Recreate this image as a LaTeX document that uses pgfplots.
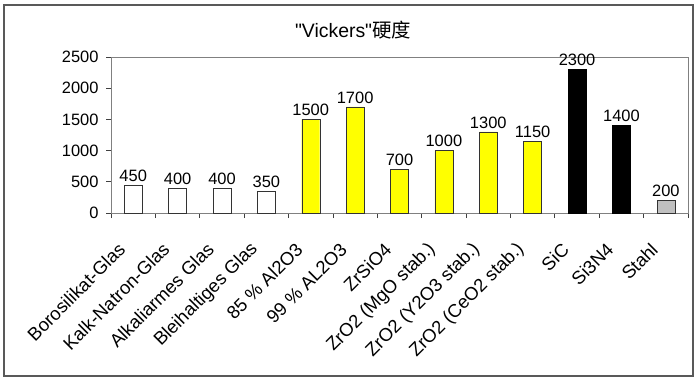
\documentclass[border=0pt]{standalone}
\usepackage{pgfplots}
\pgfplotsset{compat=1.18}
\usepackage{fontspec}
\setmainfont{Liberation Sans}
\newfontfamily\plainfont{Liberation Sans}
\newfontfamily\cjk{Noto Sans CJK SC}
\definecolor{xlyellow}{RGB}{255,255,0}
\definecolor{xlgray}{RGB}{192,192,192}
\begin{document}
\begin{tikzpicture}[x=1bp,y=1bp]
\useasboundingbox (0,0) rectangle (700,380);
\fill[white] (0,0) rectangle (700,380);
\draw[line width=1.5bp, black!65] (4,4) rectangle (693,375);
\node[font=\fontsize{19.5}{23}\selectfont] at (353,350) {\plainfont "Vickers"{\cjk 硬度}};
\begin{axis}[
  at={(111bp,167bp)}, anchor=south west,
  scale only axis, width=577bp, height=156bp,
  xmin=-0.5, xmax=12.5, ymin=0, ymax=2500,
  ytick={0,500,1000,1500,2000,2500},
  xtick={0,...,12},
  xticklabels={Borosilikat-Glas, Kalk-Natron-Glas, Alkaliarmes Glas, Bleihaltiges Glas, 85 \% Al2O3, 99 \% AL2O3, ZrSiO4, ZrO2 (MgO stab.), ZrO2 (Y2O3 stab.), ZrO2 (CeO2 stab.), SiC, Si3N4, Stahl},
  minor xtick={-0.5,0.5,...,12.5},
  major x tick style={draw=none},
  minor tick length=5bp,
  major tick length=5bp,
  tick align=outside,
  xtick pos=bottom, ytick pos=left,
  tick style={black!75, line width=0.8bp},
  axis line style={black!50, line width=0.8bp},
  /pgf/number format/assume math mode=true,
  /pgf/number format/1000 sep={},
  tick label style={font=\fontsize{16.5}{19}\selectfont},
  yticklabel style={xshift=-4bp},
  xticklabel style={font=\fontsize{18.5}{21}\selectfont, anchor=east, xshift=-9bp, yshift=-26bp, rotate=45},
  ybar, bar width=18bp,
  clip=false,
  nodes near coords,
  every node near coord/.append style={font=\fontsize{16.5}{19}\selectfont, black},
]
\addplot[bar shift=0pt, fill=white, draw=black!80] coordinates {(0,450) (1,400) (2,400) (3,350)};
\addplot[bar shift=0pt, fill=xlyellow, draw=black!80] coordinates {(4,1500) (5,1700) (6,700) (7,1000) (8,1300) (9,1150)};
\addplot[bar shift=0pt, fill=black, draw=black] coordinates {(10,2300) (11,1400)};
\addplot[bar shift=0pt, fill=xlgray, draw=black!80] coordinates {(12,200)};
\end{axis}
\end{tikzpicture}
\end{document}
